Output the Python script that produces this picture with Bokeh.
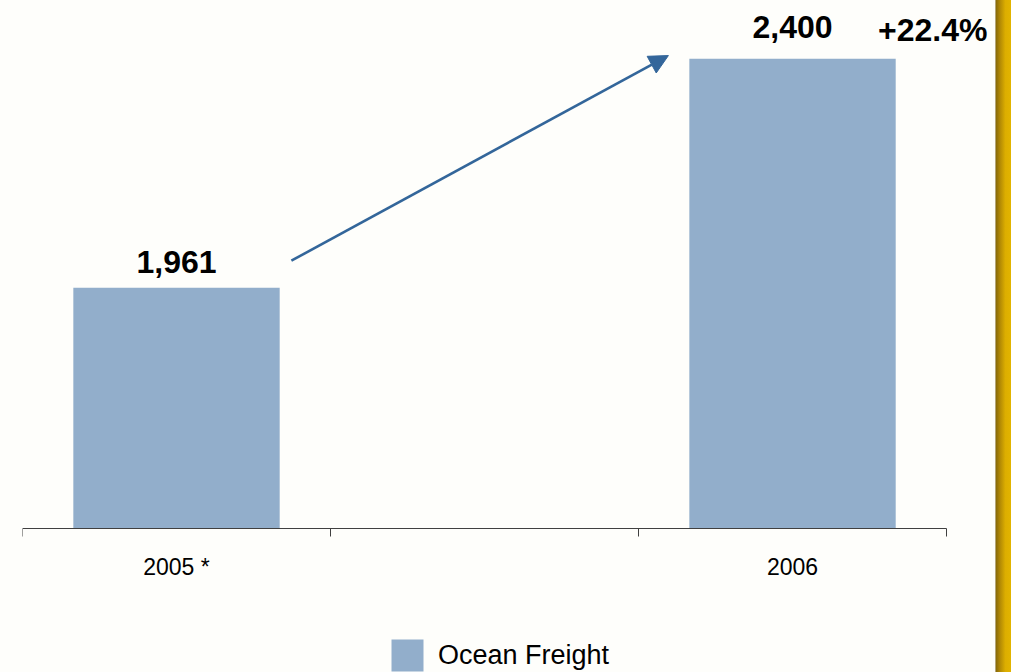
from bokeh.plotting import figure
from bokeh.models import (ColumnDataSource, FixedTicker, Arrow, NormalHead,
                          Legend, LegendItem, Range1d, Div)
from bokeh.layouts import row
from bokeh.embed import file_html
from bokeh.resources import INLINE
from bokeh.core.properties import value

# Ocean freight volume by year (slot 1 is an empty spacer column)
years = ["2005 *", "", "2006"]
slots = [0.5, 1.5, 2.5]
bar_years = ["2005 *", "2006"]
bar_slots = [0.5, 2.5]
freight = [1961, 2400]
series_name = "Ocean Freight"
baseline = 1500

bar_color = "#92aecb"
arrow_color = "#33669a"
bg = "#fefefb"

growth = (freight[1] / freight[0] - 1) * 100
growth_label = f"+{growth:.1f}%"

# frame covers the full figure; the category axis is pinned at the baseline
p = figure(width=995, height=672, output_backend="svg", toolbar_location=None,
           x_range=Range1d(0, 3.159), y_range=Range1d(1224, 2500),
           min_border_left=22, min_border_right=0, min_border_top=6,
           min_border_bottom=0, background_fill_color=bg,
           border_fill_color=bg, outline_line_color=None)

src = ColumnDataSource(dict(x=bar_slots, top=freight,
                            label=[f"{v:,}" for v in freight],
                            dy=[-26, -32]))
bars = p.vbar(x="x", top="top", bottom=baseline, width=0.67, source=src,
              fill_color=bar_color, line_color=None)

p.text(x="x", y="top", text="label", source=src, y_offset="dy",
       text_align="center", text_baseline="alphabetic",
       text_font=value("Liberation Sans"), text_font_style="bold",
       text_font_size="32px", text_color="#000000")

p.text(x=[2.955], y=[freight[1]], text=[growth_label], y_offset=-29,
       text_align="center", text_baseline="alphabetic",
       text_font=value("Liberation Sans"), text_font_style="bold",
       text_font_size="32px", text_color="#000000")

# growth arrow from the 2005 label towards the 2006 bar
p.add_layout(Arrow(x_start=0.873, y_start=2013, x_end=2.097, y_end=2406,
                   line_color=arrow_color, line_width=2.6,
                   end=NormalHead(size=19, fill_color=arrow_color,
                                  line_color=arrow_color)))

p.yaxis.visible = False
p.grid.visible = False

ax = p.xaxis[0]
ax.fixed_location = baseline
ax.bounds = (0, 3)
ax.ticker = FixedTicker(ticks=slots, minor_ticks=[0, 1, 2, 3])
ax.major_label_overrides = {s: y for s, y in zip(slots, years)}
ax.major_tick_out = 0
ax.major_tick_in = 0
ax.minor_tick_out = 8
ax.minor_tick_in = 0
ax.axis_line_color = "#404040"
ax.minor_tick_line_color = "#404040"
ax.axis_line_width = 1.2
ax.major_label_standoff = 18
ax.major_label_text_font = "Liberation Sans Narrow, Arial Narrow, Liberation Sans"
ax.major_label_text_font_size = "23px"
ax.major_label_text_color = "#000000"

legend = Legend(items=[LegendItem(label=series_name, renderers=[bars])],
                location=(365, -3), orientation="horizontal",
                glyph_width=40, glyph_height=40, label_standoff=11,
                label_text_font="Liberation Sans", label_text_font_size="27px",
                label_text_color="#000000", padding=0, margin=0,
                border_line_alpha=0, background_fill_alpha=0)
p.add_layout(legend, "center")

stripe = Div(text="", width=16, height=672, margin=0, styles={
    "background": "linear-gradient(to right, #d0ccc0 0%, #8a6b08 8%, #b08805 30%, #dcae00 65%, #e2b400)",
    "height": "672px", "width": "16px"})

layout = row(p, stripe, spacing=0, styles={"background": bg})

open("out.html", "w").write(file_html(layout, INLINE))
